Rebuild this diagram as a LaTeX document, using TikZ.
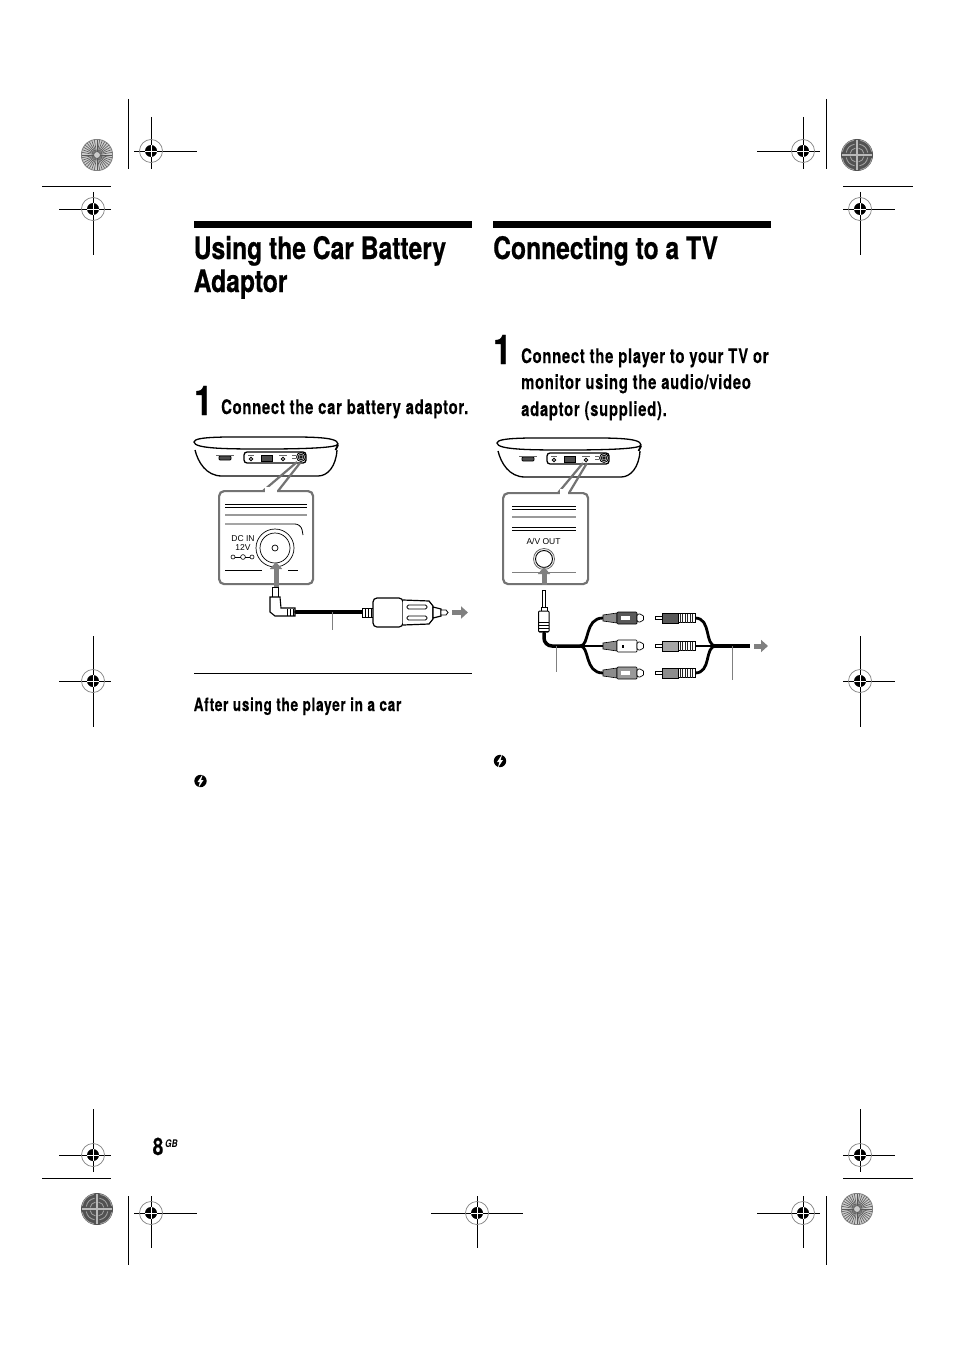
\documentclass[tikz,border=0pt]{standalone}
\usepackage{fontspec}
\newfontfamily\narrowfont[FakeStretch=0.795, BoldFeatures={FakeBold=0.5}]{TeX Gyre Heros}
\newfontfamily\stepfont[FakeStretch=0.74, LetterSpace=3.7, BoldFeatures={FakeBold=0.3}]{TeX Gyre Heros}
\newfontfamily\labelfont{Liberation Sans}
\usetikzlibrary{
  arrows.meta,
  calc,
  positioning
}

\newcommand{\regmark}[6]{%
  \draw[cropline] (#3,#2) -- (#4,#2);
  \draw[cropline] (#1,#5) -- (#1,#6);
  \draw[gray, line width=0.7pt] (#1,#2) circle[radius=11.5pt];
  \fill (#1,#2) circle[radius=6pt];
  \draw[white, line width=0.5pt] (#1-6,#2) -- (#1+6,#2) (#1,#2-6) -- (#1,#2+6);
}
\newcommand{\sundisc}[2]{%
  \fill[gray!40] (#1,#2) circle[radius=16pt];
  \foreach \ang in {0,10,...,350}
    \draw[black!65, line width=0.6pt] ($(#1,#2)+(\ang:3pt)$) -- ($(#1,#2)+(\ang:16pt)$);
  \draw[gray, line width=0.7pt] (#1,#2) circle[radius=15.6pt];
}
\newcommand{\crossdisc}[2]{%
  \fill[black!68] (#1,#2) circle[radius=16pt];
  \foreach \ang in {45,135,225,315}
    \foreach \rad in {7,11,15}
      \draw[gray!70, line width=0.8pt] ($(#1,#2)+(\ang-32:\rad pt)$) to[bend right=35] ($(#1,#2)+(\ang+32:\rad pt)$);
  \draw[gray!55, line width=1.4pt] (#1-15,#2) -- (#1+15,#2) (#1,#2-15) -- (#1,#2+15);
}
\newcommand{\playerdraw}[2]{%
  \begin{scope}[shift={(#1,#2)}]
    \draw[devline, fill=white] (194,442) .. controls (194,436) and (230,437) .. (266,437)
      .. controls (305,437) and (338,436) .. (338,444)
      .. controls (338,448) and (300,449) .. (266,449)
      .. controls (230,449) and (194,449) .. (194,442) -- cycle;
    \draw[devline] (195,450) .. controls (198,462) and (206,476) .. (222,476) -- (318,476)
      .. controls (328,476) and (336,466) .. (337,450);
    \draw[line width=1.8pt] (335.5,450) -- (338,445);
    \draw[line width=1.3pt, rounded corners=3pt] (244,452) rectangle (306,463);
    \draw[line width=0.8pt, fill=black!70, rounded corners=1pt] (219,456) rectangle (231,460);
    \draw[black!60, line width=0.8pt] (216,455) -- (234,455);
    % ports
    \draw[line width=0.9pt] (251,459) circle[radius=1.8pt];
    \draw[black!60, line width=0.8pt] (248,455) -- (254,455);
    \draw[line width=0.8pt, fill=black!70] (261,455) rectangle (272,461);
    \draw[line width=0.9pt] (283,459) circle[radius=1.8pt];
    \draw[black!60, line width=0.8pt] (279,455) -- (287,455);
    \draw[black!60, line width=0.8pt] (292,455) -- (296,455) (292,458) -- (296,458);
    \draw[line width=0.8pt] (301,457) circle[radius=4.5pt] (301,457) circle[radius=2.8pt] (301,457) circle[radius=1.2pt];
  \end{scope}
}
\newcommand{\rcafemale}[2]{%
  \begin{scope}[shift={(0,#1)}]
    \draw[line width=0.6pt, fill=black!45] (603,-3) -- (617,-5) -- (617,5) -- (603,3) -- cycle;
    \draw[line width=0.7pt, fill=#2, rounded corners=1pt] (617,-6) rectangle (637,6);
    \fill[white] (621,-2) rectangle (630,2);
    \draw[line width=0.7pt, fill=white, rounded corners=2pt] (637,-4) -- (642,-4) -- (644.5,0) -- (642,4) -- (637,4) -- cycle;
  \end{scope}
}
\newcommand{\rcamale}[2]{%
  \begin{scope}[shift={(0,#1)}]
    \draw[line width=0.8pt, fill=white] (655,-1.2) rectangle (662,1.2);
    \draw[line width=0.6pt, fill=#2] (662,-5) rectangle (678,5);
    \draw[line width=0.6pt, fill=white] (678,-4.5) rectangle (695,4.5);
    \foreach \xrib in {680,682.5,...,693}
      \draw[line width=1pt, black!85] (\xrib,-4.5) -- (\xrib,4.5);
  \end{scope}
}
\newcommand{\tipmark}[2]{%
  \fill (#1,#2) circle[radius=6.2pt];
  \fill[white] ($(#1,#2)+(2.2,-6.8)$) -- ($(#1,#2)+(-3,1)$) -- ($(#1,#2)+(-0.6,1)$) -- ($(#1,#2)+(-2.2,6.8)$) -- ($(#1,#2)+(3,-1)$) -- ($(#1,#2)+(0.6,-1)$) -- cycle;
}

\begin{document}
\begin{tikzpicture}[x=1pt, y=-1pt]

\tikzset{
  cropline/.style={line width=0.9pt},
  devline/.style={line width=1.3pt},
  headbar/.style={fill=black},
  head/.style={
    anchor=base west,
    inner sep=0pt,
    font=\narrowfont\bfseries\fontsize{31}{31}\selectfont
  },
  bignum/.style={
    anchor=base west,
    inner sep=0pt,
    font=\narrowfont\bfseries\fontsize{41}{41}\selectfont
  },
  steptext/.style={
    anchor=base west,
    inner sep=0pt,
    font=\stepfont\bfseries\fontsize{20}{20}\selectfont
  },
  panellabel/.style={
    inner sep=0pt,
    font=\labelfont\fontsize{8.5}{8.5}\selectfont
  },
  panelbox/.style={
    draw=black!55,
    fill=white,
    line width=2.2pt,
    rounded corners=5pt
  },
  wedge/.style={draw=black!55, line width=2.2pt},
  greyarrow/.style={
    draw=black!50,
    line width=5pt,
    -{Triangle[length=7pt, width=12pt]}
  },
  leader/.style={draw=black!50, line width=1pt},
  cable/.style={line width=3.5pt, line cap=round}
}

\useasboundingbox (0,0) rectangle (954,1364);

% MARKS ----------------------------------------------------------

\draw[cropline] (128,99) -- (128,169);
\draw[cropline] (826,99) -- (826,169);
\draw[cropline] (42,186) -- (111,186);
\draw[cropline] (843,186) -- (913,186);
\draw[cropline] (42,1178) -- (111,1178);
\draw[cropline] (843,1178) -- (913,1178);
\draw[cropline] (128,1196) -- (128,1265);
\draw[cropline] (826,1196) -- (826,1265);

\regmark{151}{151}{134}{197}{117}{169}
\regmark{803}{151}{757}{820}{117}{169}
\regmark{93}{209}{59}{111}{192}{255}
\regmark{860}{209}{843}{895}{192}{255}
\regmark{93}{681}{59}{111}{636}{727}
\regmark{860}{681}{843}{895}{636}{727}
\regmark{93}{1155}{59}{111}{1109}{1172}
\regmark{860}{1155}{843}{895}{1109}{1172}
\regmark{151}{1213}{134}{197}{1196}{1248}
\regmark{803}{1213}{757}{820}{1196}{1248}
\regmark{477}{1213}{431}{523}{1196}{1248}

\sundisc{97}{155}
\crossdisc{857}{155}
\crossdisc{97}{1209}
\sundisc{857}{1209}

% TEXT -----------------------------------------------------------

\fill[headbar] (194,221) rectangle (472,228);
\fill[headbar] (493,221) rectangle (771,228);

\node[head] (carhead1) at (193.5,259) {Using the Car Battery};
\node[head] (carhead2) at (193.5,292) {Adaptor};
\node[head] (tvhead)   at (493,259) {Connecting to a TV};

\node[bignum] (carnum) at (194,415) {1};
\node[bignum] (tvnum)  at (493,364) {1};

\node[steptext] (carstep)  at (221,414) {Connect the car battery adaptor.};
\node[steptext] (tvstep1)  at (521,363) {Connect the player to your TV or};
\node[steptext] (tvstep2)  at (521,389) {monitor using the audio/video};
\node[steptext] (tvstep3)  at (521,416) {adaptor (supplied).};

\draw[line width=0.8pt] (194,673) -- (472,673);
\node[steptext, font=\stepfont\bfseries\fontsize{18.4}{18.4}\selectfont] (carafter) at (193.5,711) {After using the player in a car};

\tipmark{200.5}{781}
\tipmark{500}{761}

\node[anchor=base west, inner sep=0pt, font=\narrowfont\bfseries\fontsize{24}{24}\selectfont] (pagenum) at (152.5,1155) {8};
\node[anchor=base west, inner sep=0pt, font=\narrowfont\bfseries\itshape\fontsize{10.5}{10.5}\selectfont] (pagegb) at (165,1147) {GB};

% LEFT DIAGRAM ---------------------------------------------------

\playerdraw{0}{0}

\node[panelbox, minimum width=94pt, minimum height=93pt, anchor=north west] (dcbox) at (218,490) {};
\draw[wedge] (263,491) -- (297,462);
\draw[wedge] (278,491) -- (300,463);
\fill[white] (264.5,487) -- (276.5,487) -- (276.5,492.5) -- (264.5,492.5) -- cycle;

\draw[line width=0.9pt] (225,504) -- (307,504);
\draw[line width=0.9pt] (225,507) -- (307,507);
\draw[black!40, line width=2.2pt] (225,515) -- (307,515);
\draw[line width=0.8pt, rounded corners=6pt] (225,524) -- (301,524) -- (303,535);
\draw[line width=0.8pt] (225,570) -- (262,570) (288,570) -- (298,570);

\node[panellabel] (dclabel1) at (243,538.5) {DC IN};
\node[panellabel] (dclabel2) at (243,547.5) {12V};
\draw[line width=0.6pt] (233,557) circle[radius=2pt] (243,557) circle[radius=2.4pt] (252,557) circle[radius=2pt];
\draw[line width=0.6pt] (235,557) -- (240.6,557) (245.4,557) -- (250,557);

\draw[line width=0.7pt] (275,548) circle[radius=19pt] (275,548) circle[radius=15pt];
\draw[line width=0.7pt] (275,548) circle[radius=3pt];

% plug and adaptor
\draw[line width=0.8pt, fill=white] (272,587) rectangle (278,597);
\draw[line width=1.1pt, fill=white] (270,597) -- (280,597) -- (281,608) -- (295,608) -- (295,616) -- (275,616) -- (270,612) -- cycle;
\foreach \xrib in {287,290,293}
  \draw[line width=1pt] (\xrib,609) -- (\xrib,615.5);
\draw[cable] (296,612) coordinate (plugend) -- (362,612) coordinate (barrelend);
\draw[line width=0.8pt, fill=white] (362,608) rectangle (374,617);
\foreach \xrib in {365,368,371}
  \draw[line width=1pt] (\xrib,608) -- (\xrib,617);
\draw[line width=1.2pt, fill=white, rounded corners=4pt] (373,598) rectangle (403,627);
\draw[line width=1.2pt, fill=white] (403,600) -- (429,601) -- (433,606) -- (433,619) -- (429,624) -- (403,625);
\draw[line width=0.8pt, rounded corners=1.5pt] (407,605) rectangle (427,609);
\draw[line width=0.8pt, rounded corners=1.5pt] (407,616) rectangle (427,620);
\draw[line width=1.2pt, fill=white] (433,607) -- (441,609) -- (441,616) -- (433,618) -- cycle;
\draw[line width=0.8pt, fill=white] (441,610) -- (446,610) -- (448,612.5) -- (446,615) -- (441,615) -- cycle;

\draw[greyarrow] (276,587) coordinate (dcfrom) -- (276,562) coordinate (dcto);
\draw[greyarrow] (452,612.5) coordinate (caroutfrom) -- (468,612.5) coordinate (caroutto);
\draw[leader] (332,612) coordinate (carlead) -- (332,630);

% RIGHT DIAGRAM --------------------------------------------------

\playerdraw{303}{1}

\node[panelbox, minimum width=85pt, minimum height=91pt, anchor=north west] (avbox) at (502,492) {};
\draw[wedge] (558,493) -- (583,463);
\draw[wedge] (569,493) -- (587,463);
\fill[white] (559.5,489) -- (567.5,489) -- (567.5,494.5) -- (559.5,494.5) -- cycle;

\draw[line width=0.9pt] (512,506) -- (576,506);
\draw[line width=0.9pt] (512,509) -- (576,509);
\draw[black!40, line width=2.2pt] (512,517) -- (576,517);
\draw[line width=0.8pt] (512,527) -- (576,527);
\draw[line width=0.8pt] (512,530) -- (576,530);
\draw[black!50, line width=0.8pt] (512,572) -- (576,572);

\node[panellabel] (avlabel) at (543.5,541) {A/V OUT};
\draw[black!60, line width=0.8pt] (544,559) circle[radius=10.5pt];
\draw[line width=0.9pt] (544,559) circle[radius=8.5pt];

% jack and branch cable
\draw[line width=0.8pt, fill=white] (542.8,590) rectangle (545.2,607);
\draw[line width=1pt, fill=white] (541,607) rectangle (547,611);
\draw[line width=1pt, fill=white, rounded corners=1pt] (538.5,611) rectangle (549,632);
\foreach \yrib in {622,625,628,631}
  \draw[line width=1pt] (538.5,\yrib) -- (549,\yrib);
\draw[cable, rounded corners=8pt] (544,633) -- (544,646) -- (580,646);
\draw[line width=2.8pt] (580,646) .. controls (590,646) and (584,618) .. (603,618);
\draw[line width=2.8pt] (580,646) .. controls (590,646) and (584,673) .. (603,673);
\draw[line width=2.4pt] (578,646) -- (603,646);
\draw[line width=2.8pt] (695,618) .. controls (712,618) and (704,646) .. (716,646);
\draw[line width=2.8pt] (695,673) .. controls (712,673) and (704,646) .. (716,646);
\draw[line width=2.4pt] (695,646) -- (716,646);
\draw[cable, line cap=butt] (715,646) -- (750,646);

\rcafemale{618}{black!65}
\rcafemale{646}{white}
\rcafemale{673}{black!40}
\fill (622,644.5) rectangle (624,647.5);
\rcamale{618}{black!65}
\rcamale{646}{black!35}
\rcamale{673}{black!45}

\draw[greyarrow] (544,585) coordinate (avfrom) -- (544,567) coordinate (avto);
\draw[greyarrow] (754,646) coordinate (tvoutfrom) -- (768,646) coordinate (tvoutto);
\draw[leader] (556,646) coordinate (tvleadl) -- (556,672);
\draw[leader] (732,646) coordinate (tvleadr) -- (732,680);

\end{tikzpicture}
\end{document}
